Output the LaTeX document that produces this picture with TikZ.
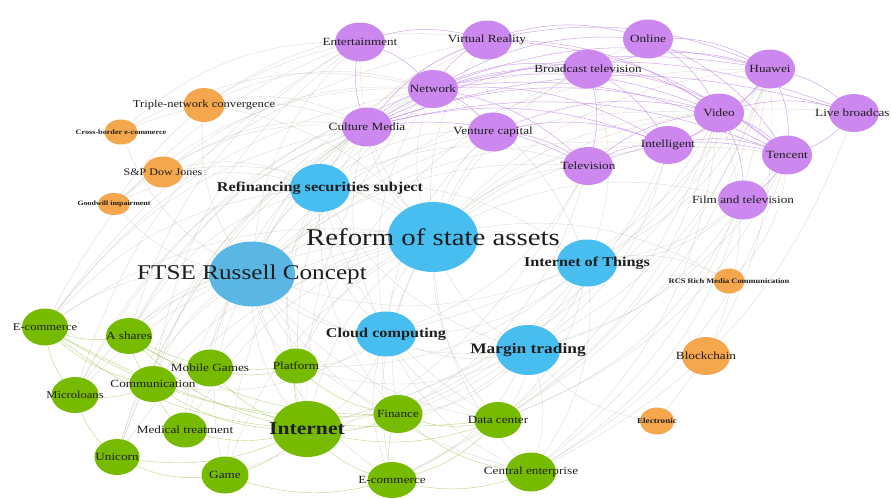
\documentclass[tikz,border=0pt]{standalone}
\usepackage{fontspec}
\setmainfont{Liberation Serif}[FakeStretch=1.2]
\usetikzlibrary{shapes.geometric,backgrounds}
\definecolor{purpnode}{HTML}{CC88EE}
\definecolor{bluenode}{HTML}{48BDF0}
\definecolor{ftseblue}{HTML}{5AB6E2}
\definecolor{greennode}{HTML}{77BB00}
\definecolor{orangenode}{HTML}{F4A74C}
\definecolor{greyedge}{HTML}{B9B4A6}
\definecolor{purpedge}{HTML}{C68FE8}
\definecolor{greenedge}{HTML}{A4C85A}
\definecolor{labtext}{HTML}{1E1E1E}
% arc from #2 to #3, bulging away from the middle (ctr)
\newcommand\edgeto[3]{%
  \pgfpointdiff{\pgfpointanchor{ctr}{center}}{\pgfpointanchor{#2}{center}}%
  \pgfgetlastxy{\edux}{\eduy}%
  \pgfpointdiff{\pgfpointanchor{ctr}{center}}{\pgfpointanchor{#3}{center}}%
  \pgfgetlastxy{\edvx}{\edvy}%
  \pgfmathtruncatemacro\edcw{((\edux/100)*(\edvy/100)-(\eduy/100)*(\edvx/100))<0}%
  \ifnum\edcw=1 \draw[#1,bend left] (#2.center) to (#3.center);%
  \else \draw[#1,bend right] (#2.center) to (#3.center);\fi}
\begin{document}
\begin{tikzpicture}[x=1pt,y=-1pt,
  nd/.style n args={3}{ellipse,draw=none,fill=#1,minimum width=#2pt,minimum height=#3pt,inner sep=0pt},
  lab/.style={text=labtext,inner sep=0pt,font=\fontsize{#1}{#1}\selectfont},
  blab/.style={text=labtext,inner sep=0pt,font=\fontsize{#1}{#1}\selectfont\bfseries},
  gedge/.style={draw=greyedge,line width=0.35pt,opacity=0.5,bend angle=22},
  pedge/.style={draw=purpedge,line width=0.5pt,opacity=0.8,bend angle=18},
  gredge/.style={draw=greenedge,line width=0.4pt,opacity=0.75,bend angle=18}]
\useasboundingbox (0,0) rectangle (891,498);
\coordinate (ctr) at (445,250);

%Purple nodes
\node [nd={purpnode}{50}{39},label={[lab=11]center:Entertainment}] (ent) at (360,42) {};
\node [nd={purpnode}{50}{39},label={[lab=11]center:Virtual Reality}] (vr) at (487,40) {};
\node [nd={purpnode}{50}{39},label={[lab=11]center:Online}] (onl) at (648,39) {};
\node [nd={purpnode}{50}{39},label={[lab=11]center:Broadcast television}] (bt) at (588,69) {};
\node [nd={purpnode}{50}{39},label={[lab=11]center:Huawei}] (hw) at (770,69) {};
\node [nd={purpnode}{50}{38},label={[lab=11]center:Network}] (net) at (433,89) {};
\node [nd={purpnode}{50}{39},label={[lab=11]center:Culture Media}] (cm) at (367,127) {};
\node [nd={purpnode}{50}{39},label={[lab=11]center:Venture capital}] (vc) at (493,132) {};
\node [nd={purpnode}{50}{38},label={[lab=11]center:Television}] (tv) at (588,166) {};
\node [nd={purpnode}{50}{38},label={[lab=11]center:Intelligent}] (intl) at (668,145) {};
\node [nd={purpnode}{50}{39},label={[lab=11]center:Video}] (vid) at (719,113) {};
\node [nd={purpnode}{50}{39},label={[lab=11]center:Tencent}] (ten) at (787,155) {};
\node [nd={purpnode}{50}{38}] (live) at (854,113) {};
\node [lab=11,anchor=west] (livelab) at (815,113) {Live broadcas};
\node [nd={purpnode}{50}{39},label={[lab=11]center:Film and television}] (film) at (743,200) {};

%Blue nodes
\node [nd={bluenode}{60}{48},label={[blab=13.5]center:Refinancing securities subject}] (rfs) at (320,188) {};
\node [nd={bluenode}{90}{70},label={[lab=24]center:Reform of state assets}] (rsa) at (433,237) {};
\node [nd={ftseblue}{86}{65},label={[lab=21]center:FTSE Russell Concept}] (ftse) at (252,274) {};
\node [nd={bluenode}{60}{47},label={[blab=13.5]center:Internet of Things}] (iot) at (587,263) {};
\node [nd={bluenode}{60}{45},label={[blab=13.5]center:Cloud computing}] (cc) at (386,334) {};
\node [nd={bluenode}{64}{50},label={[blab=14.5]center:Margin trading}] (mt) at (528,350) {};

%Green nodes
\node [nd={greennode}{46}{37},label={[lab=10.5]center:E-commerce}] (ecl) at (45,327) {};
\node [nd={greennode}{46}{36},label={[lab=11]center:A shares}] (ash) at (129,336) {};
\node [nd={greennode}{46}{37},label={[lab=11]center:Mobile Games}] (mg) at (210,368) {};
\node [nd={greennode}{44}{35},label={[lab=11]center:Platform}] (plat) at (296,366) {};
\node [nd={greennode}{47}{36},label={[lab=11]center:Communication}] (com) at (153,384) {};
\node [nd={greennode}{47}{36},label={[lab=10.5]center:Microloans}] (mic) at (75,395) {};
\node [nd={greennode}{44}{35},label={[lab=11]center:Medical treatment}] (med) at (185,430) {};
\node [nd={greennode}{70}{56},label={[blab=18]center:Internet}] (inet) at (307,429) {};
\node [nd={greennode}{49}{38},label={[lab=11]center:Finance}] (fin) at (398,414) {};
\node [nd={greennode}{45}{36},label={[lab=11]center:Unicorn}] (uni) at (117,457) {};
\node [nd={greennode}{47}{37},label={[lab=11]center:Game}] (game) at (225,475) {};
\node [nd={greennode}{49}{36},label={[lab=11]center:E-commerce}] (ecb) at (392,480) {};
\node [nd={greennode}{47}{36},label={[lab=11]center:Data center}] (dc) at (498,420) {};
\node [nd={greennode}{50}{39},label={[lab=11]center:Central enterprise}] (cen) at (531,472) {};

%Orange nodes
\node [nd={orangenode}{41}{34},label={[lab=10.5]center:Triple-network convergence}] (tnc) at (204,105) {};
\node [nd={orangenode}{33}{25},label={[blab=6.8]center:Cross-border e-commerce}] (cbe) at (121,132) {};
\node [nd={orangenode}{40}{31},label={[lab=10]center:S\&P Dow Jones}] (spdj) at (163,172) {};
\node [nd={orangenode}{32}{22},label={[blab=6.6]center:Goodwill impairment}] (gw) at (114,204) {};
\node [nd={orangenode}{31}{25},label={[blab=7]center:RCS Rich Media Communication}] (rcs) at (729,281) {};
\node [nd={orangenode}{48}{38},label={[lab=11]center:Blockchain}] (bc) at (706,356) {};
\node [nd={orangenode}{34}{27},label={[blab=7.6]center:Electronic}] (elec) at (657,421) {};

\begin{scope}[on background layer]
%Grey edges
\foreach \a/\b in {rsa/ent,rsa/vr,rsa/onl,rsa/bt,rsa/hw,rsa/net,rsa/cm,rsa/vc,rsa/tv,rsa/intl,rsa/vid,rsa/ten,rsa/live,rsa/film,
  rsa/rfs,rsa/ftse,rsa/iot,rsa/cc,rsa/mt,rsa/ecl,rsa/ash,rsa/mg,rsa/plat,rsa/com,rsa/mic,rsa/med,rsa/inet,rsa/fin,rsa/uni,
  rsa/game,rsa/ecb,rsa/dc,rsa/cen,rsa/tnc,rsa/spdj,rsa/rcs,
  ftse/ent,ftse/net,ftse/cm,ftse/vc,ftse/tv,ftse/intl,ftse/vid,ftse/hw,ftse/rfs,ftse/iot,ftse/cc,ftse/mt,ftse/ecl,ftse/ash,
  ftse/mg,ftse/plat,ftse/com,ftse/mic,ftse/med,ftse/inet,ftse/fin,ftse/uni,ftse/game,ftse/ecb,ftse/dc,ftse/cen,ftse/tnc,
  ftse/cbe,ftse/gw,
  rfs/net,rfs/cm,rfs/vr,rfs/bt,rfs/tv,rfs/vc,rfs/iot,rfs/cc,rfs/mt,rfs/ash,rfs/plat,rfs/inet,rfs/fin,rfs/dc,rfs/ecl,rfs/spdj,rfs/gw,
  iot/net,iot/bt,iot/intl,iot/vid,iot/hw,iot/ten,iot/film,iot/cc,iot/mt,iot/inet,iot/fin,iot/dc,iot/cen,iot/rcs,iot/plat,
  cc/net,cc/cm,cc/vc,cc/tv,cc/mt,cc/inet,cc/fin,cc/dc,cc/ecb,cc/cen,cc/plat,cc/com,cc/hw,
  mt/fin,mt/dc,mt/cen,mt/ecb,mt/inet,mt/plat,mt/intl,mt/film,mt/elec,mt/hw,mt/ten,
  ecl/ent,ecl/net,ecl/cm,ecl/vr,mic/cm,mic/ent,mic/net,uni/vr,uni/cm,uni/net,com/cm,ash/ent,ash/net,mg/cm,game/tv,game/net,
  gw/cm,gw/net,gw/ent,spdj/cm,spdj/net,tnc/net,tnc/cm,tnc/vr,cbe/cm,cbe/net,cbe/ent,
  cen/film,cen/hw,cen/live,cen/ten,cen/vid,dc/ten,dc/hw,dc/film,elec/hw,bc/vid,rcs/ten,
  inet/net,inet/vid,inet/hw,inet/cm,fin/tv,fin/intl,dc/vid,ash/cm,com/ent,plat/bt,med/net,ecb/vid,ecb/hw}
  \edgeto{gedge}{\a}{\b};
%Purple edges
\foreach \a/\b in {net/vr,net/bt,net/vid,net/hw,net/tv,net/intl,net/vc,net/cm,net/ent,net/onl,net/ten,net/live,
  cm/vr,cm/bt,cm/vid,cm/tv,cm/intl,cm/hw,cm/ten,vr/onl,vr/hw,vr/vid,bt/vid,bt/tv,bt/hw,bt/ten,bt/intl,
  onl/hw,onl/vid,hw/vid,hw/live,hw/ten,hw/intl,vid/ten,vid/live,vid/intl,vid/tv,intl/ten,intl/tv,tv/ten,
  vc/tv,vc/intl,vc/vid,film/vid,film/ten,live/ten,ent/vr,ent/cm,cm/live,vr/ten,onl/ten}
  \edgeto{pedge}{\a}{\b};
%Green edges
\foreach \a/\b in {ecl/ash,ecl/com,ecl/inet,ecl/fin,ash/com,ash/inet,ash/mg,ash/plat,com/inet,com/mic,mg/inet,mg/plat,
  med/inet,inet/fin,inet/ecb,inet/plat,inet/uni,inet/game,fin/ecb,fin/dc,dc/ecb,dc/inet,cen/ecb,uni/game,mic/uni,
  game/ecb,med/com,ecl/mic,plat/fin,fin/cen,ecl/dc,ash/fin}
  \edgeto{gredge}{\a}{\b};
\end{scope}
\end{tikzpicture}
\end{document}
